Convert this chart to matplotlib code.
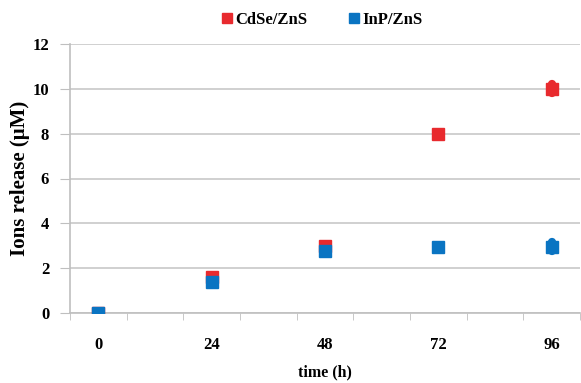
import matplotlib
matplotlib.use("Agg")
import matplotlib.pyplot as plt
import numpy as np
from matplotlib.lines import Line2D

times = [0, 24, 48, 72, 96]
cdse = [0.0, 1.6, 3.0, 8.0, 10.0]
cdse_err = [0.0, 0.0, 0.0, 0.0, 0.2]
inp = [0.0, 1.4, 2.75, 2.95, 2.95]
inp_err = [0.0, 0.0, 0.0, 0.0, 0.2]
xtick_labels = ["0", "24", "48", "72", "96"]
series_names = ["CdSe/ZnS", "InP/ZnS"]

red = "#e82a2e"
blue = "#0a74c2"
serif = ["Liberation Serif", "DejaVu Serif"]

fig = plt.figure(figsize=(5.81, 3.83), dpi=100)
ax = fig.add_axes([70/581, 1 - 313/383, 510/581, (313-44)/383])

pos = np.array(times) / 12.0
for vals, errs, col, z in [(cdse, cdse_err, red, 3), (inp, inp_err, blue, 4)]:
    v = np.array(vals); e = np.array(errs)
    m = e > 0
    ax.vlines(pos[m], v[m] - e[m], v[m] + e[m], color=col, linewidth=6,
              capstyle="round", zorder=z)
    ax.plot(pos, vals, "s", color=col, ms=8.5, mec=col, zorder=z)

ax.set_xlim(-0.5, 8.5)
ax.set_ylim(0, 12)
ax.set_yticks(np.arange(0, 13, 2))
ax.set_yticklabels([str(v) for v in range(0, 13, 2)], fontfamily=serif,
                   fontweight="bold", fontsize=12)
ax.set_xticks(pos)
ax.set_xticklabels(xtick_labels, fontfamily=serif, fontweight="bold", fontsize=12)
ax.set_xticks(np.arange(-0.5, 8.6, 1), minor=True)
ax.tick_params(axis="x", which="major", length=0, pad=17)
ax.tick_params(axis="x", which="minor", length=5, color="#bfbfbf", direction="out")
ax.tick_params(axis="y", length=7, color="#bfbfbf", pad=8)

ax.grid(axis="y", color="#c8c8c8", linewidth=1.2)
ax.set_axisbelow(True)
for s in ["top", "right"]:
    ax.spines[s].set_visible(False)
ax.spines["left"].set_color("#bfbfbf")
ax.spines["bottom"].set_color("#bfbfbf")
ax.spines["left"].set_linewidth(1.2)
ax.spines["bottom"].set_linewidth(1.2)

ax.set_ylabel("Ions release (μM)", fontfamily=serif, fontweight="bold", fontsize=15)
ax.yaxis.set_label_coords(-40/510, 0.5)
ax.set_xlabel("time (h)", fontfamily=serif, fontweight="bold", fontsize=11.5)
ax.xaxis.set_label_coords(0.5, -51/269)

h = [Line2D([], [], marker="s", ls="none", color=red, ms=7),
     Line2D([], [], marker="s", ls="none", color=blue, ms=7)]
fig.legend(h, series_names, loc="center", bbox_to_anchor=(321/581, 1 - 20/383),
           ncol=2, frameon=False, handletextpad=0.0, columnspacing=2.3,
           prop={"family": serif, "weight": "bold", "size": 12}, handlelength=1.0)

fig.savefig("out.png", dpi=100)
